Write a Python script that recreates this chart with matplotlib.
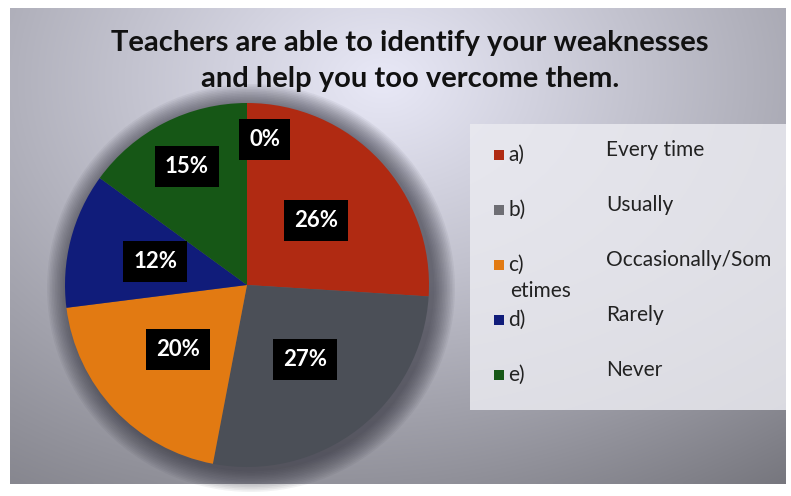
import matplotlib.pyplot as plt
import numpy as np
from matplotlib.patches import Circle, Rectangle

plt.rcParams['font.family'] = ['Lato', 'DejaVu Sans']

# data
title = 'Teachers are able to identify your weaknesses\nand help you too vercome them.'
pct_values = [0, 26, 27, 20, 12, 15]
pct_labels = ['0%', '26%', '27%', '20%', '12%', '15%']
slice_colors = ['#b02a12', '#b02a12', '#4b4f57', '#e27a12', '#101c7a', '#165716']
legend_keys = ['a)', 'b)', 'c)', 'd)', 'e)']
legend_names = ['Every time', 'Usually', 'Occasionally/Som', 'Rarely', 'Never']
legend_colors = ['#b02a12', '#6e6e74', '#e27a12', '#101c7a', '#165716']

W, H = 791, 496
fig = plt.figure(figsize=(W / 100, H / 100), dpi=100)
fig.patch.set_facecolor('white')
ax = fig.add_axes([0, 0, 1, 1])

# slide background (photographed, uneven light)
x0, x1, y0, y1 = 10, 786, 12, 488
gx, gy = np.meshgrid(np.linspace(0, 1, 200), np.linspace(0, 1, 120))
d = np.sqrt(((gx - 0.48) / 0.9) ** 2 + ((gy - 0.85) / 1.1) ** 2)
shade = np.clip(0.94 - 0.42 * d - 0.12 * np.clip(0.45 - gy, 0, 1) * gx, 0.35, 0.96)
bg = np.dstack([shade * 0.97, shade * 0.97, shade * 1.03])
ax.imshow(np.clip(bg, 0, 1), extent=[x0, x1, y0, y1], origin='lower', zorder=0, interpolation='bicubic')

# title
ax.text(410, 435, title, ha='center', va='center', fontsize=21, fontweight='bold',
        color='#111111', linespacing=1.45, zorder=5)

# pie with dark halo
cx, cy, r = 247, 211, 182
for k in range(14):
    ax.add_patch(Circle((cx + 4, cy - 3), r + 22 - k * 1.6, color='#2a2a35', alpha=0.06, lw=0, zorder=1))
wedges, _ = ax.pie(pct_values, colors=slice_colors, startangle=90, counterclock=False,
                   center=(cx, cy), radius=r, wedgeprops=dict(linewidth=0))
for w in wedges:
    w.set_zorder(2)

label_dist = [0.8, 0.52, 0.52, 0.52, 0.52, 0.73]
for w, lab, dist in zip(wedges, pct_labels, label_dist):
    ang = np.deg2rad((w.theta1 + w.theta2) / 2)
    tx = cx + dist * r * np.cos(ang)
    ty = cy + dist * r * np.sin(ang)
    ha = 'center'
    if w.theta2 - w.theta1 == 0:
        ha = 'left'
        tx += 2
    ax.text(tx, ty, lab, ha=ha, va='center', fontsize=16, fontweight='bold', color='white',
            bbox=dict(boxstyle='square,pad=0.45', fc='black', ec='none'), zorder=6)

# legend panel
ax.add_patch(Rectangle((470, 86), 316, 286, fc='#eaeaf0', ec='none', alpha=0.85, zorder=3))
leg_y = [341, 286, 231, 176, 121]
for key, name, col, yy in zip(legend_keys, legend_names, legend_colors, leg_y):
    ax.add_patch(Rectangle((494, yy - 5), 10, 10, fc=col, ec='none', zorder=5))
    ax.text(508, yy, key, ha='left', va='center', fontsize=15, color='#222222', zorder=5)
    ax.text(606, yy + 5, name, ha='left', va='center', fontsize=15, color='#222222', zorder=5)
ax.text(510, leg_y[2] - 26, 'etimes', ha='left', va='center', fontsize=15, color='#222222', zorder=5)

ax.set_xlim(0, W)
ax.set_ylim(0, H)
ax.set_aspect('auto')
ax.set_axis_off()

plt.savefig('out.png', dpi=100)
